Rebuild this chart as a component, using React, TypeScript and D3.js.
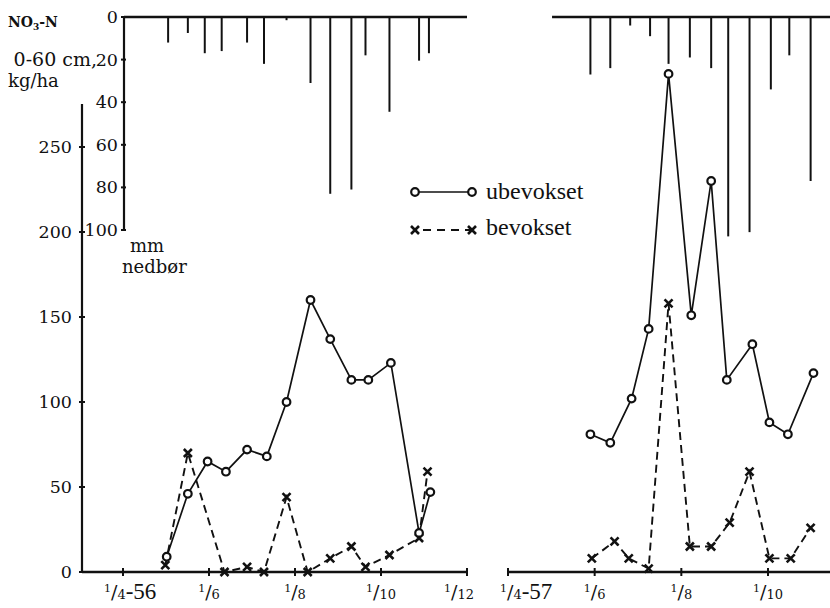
import React from "react";
import * as d3 from "d3";

// NO3-N (kg/ha, 0-60 cm) – ubevokset (bare) and bevokset (cropped), 1956 and 1957
const ubevDates56 = ["1956-05-02", "1956-05-17", "1956-05-31", "1956-06-13", "1956-06-28", "1956-07-12", "1956-07-26", "1956-08-12", "1956-08-26", "1956-09-10", "1956-09-22", "1956-10-08", "1956-10-28", "1956-11-05"];
const ubevValues56 = [9, 46, 65, 59, 72, 68, 100, 160, 137, 113, 113, 123, 23, 47];

const bevDates56 = ["1956-05-01", "1956-05-17", "1956-06-12", "1956-06-28", "1956-07-10", "1956-07-26", "1956-08-10", "1956-08-26", "1956-09-10", "1956-09-20", "1956-10-07", "1956-10-28", "1956-11-03"];
const bevValues56 = [4, 70, 0, 3, 0, 44, 0, 8, 15, 3, 10, 20, 59];

const ubevDates57 = ["1957-05-29", "1957-06-12", "1957-06-27", "1957-07-09", "1957-07-23", "1957-08-08", "1957-08-22", "1957-09-02", "1957-09-20", "1957-10-02", "1957-10-15", "1957-11-02"];
const ubevValues57 = [81, 76, 102, 143, 293, 151, 230, 113, 134, 88, 81, 117];

const bevDates57 = ["1957-05-30", "1957-06-15", "1957-06-25", "1957-07-09", "1957-07-23", "1957-08-07", "1957-08-22", "1957-09-04", "1957-09-18", "1957-10-02", "1957-10-17", "1957-10-31"];
const bevValues57 = [8, 18, 8, 2, 158, 15, 15, 29, 59, 8, 8, 26];

// precipitation (mm nedbør)
const rainDates56 = ["1956-05-03", "1956-05-17", "1956-05-29", "1956-06-10", "1956-06-28", "1956-07-10", "1956-07-26", "1956-08-12", "1956-08-26", "1956-09-10", "1956-09-20", "1956-10-07", "1956-10-28", "1956-11-04"];
const rainValues56 = [12, 7.5, 17, 16, 12, 22, 1.5, 31, 83, 81, 18, 44.5, 20.5, 17];
const rainDates57 = ["1957-05-29", "1957-06-12", "1957-06-26", "1957-07-10", "1957-07-23", "1957-08-07", "1957-08-22", "1957-09-03", "1957-09-18", "1957-10-03", "1957-10-16", "1957-10-31"];
const rainValues57 = [27, 24, 4, 9, 22, 19, 24, 103, 101, 34, 18, 77];

// ticks
const noTicks = [0, 50, 100, 150, 200, 250];
const rainTicks = [0, 20, 40, 60, 80, 100];
const monthTicks56 = ["1956-04-01", "1956-06-01", "1956-08-01", "1956-10-01", "1956-12-01"];
const monthLabels56 = ["4", "6", "8", "10", "12"];
const monthTicks57 = ["1957-04-01", "1957-06-01", "1957-08-01", "1957-10-01"];
const monthLabels57 = ["4", "6", "8", "10"];

const parse = d3.utcParse("%Y-%m-%d");
const serif = "'DejaVu Serif', serif";
const times = "'Liberation Serif', serif";

const Circle = ({ x, y }) => <circle cx={x} cy={y} r={3.8} fill="#fff" stroke="#111" strokeWidth={2.2} />;
const Cross = ({ x, y }) => (
  <path d={`M${x - 4},${y - 4}L${x + 4},${y + 4}M${x + 4},${y - 4}L${x - 4},${y + 4}`} stroke="#111" strokeWidth={2.6} />
);

const App = () => {
  const W = 830, H = 608;
  const x56 = d3.scaleUtc().domain([parse("1956-04-01"), parse("1956-12-01")]).range([123, 467]);
  const x57 = d3.scaleUtc().domain([parse("1957-04-01"), parse("1957-10-01")]).range([508, 768]);
  const y = d3.scaleLinear().domain([0, 250]).range([572, 147]);
  const yr = d3.scaleLinear().domain([0, 100]).range([17, 230]);

  const series = (dates, vals, xs) => dates.map((d, i) => [xs(parse(d)), y(vals[i])]);
  const line = d3.line();

  const u56 = series(ubevDates56, ubevValues56, x56);
  const b56 = series(bevDates56, bevValues56, x56);
  const u57 = series(ubevDates57, ubevValues57, x57);
  const b57 = series(bevDates57, bevValues57, x57);

  const yAxisX = 82;
  const rAxisX = 124;
  const leftEnd = x56(parse("1956-12-01"));
  const rightStart = x57(parse("1957-04-01"));
  const rainStart57 = x57(parse("1957-05-02"));

  const monthLabel = (lab, year, x, key) => (
    <text key={key} x={year ? x - 19 : x} y={599} textAnchor={year ? "start" : "middle"} fontFamily={serif} fill="#111">
      <tspan fontSize={11} dy={-7}>1</tspan>
      <tspan fontSize={19} dy={7}>/</tspan>
      <tspan fontSize={13}>{lab}</tspan>
      {year && <tspan fontFamily={times} fontSize={23}>{"-" + year}</tspan>}
    </text>
  );

  return (
    <svg width={W} height={H} style={{ position: "absolute", left: 0, top: 0, background: "#fff" }}>
      {/* precipitation bars */}
      <g stroke="#111" strokeWidth={2}>
        {rainDates56.map((d, i) => (
          <line key={"r56" + i} x1={x56(parse(d))} x2={x56(parse(d))} y1={yr(0)} y2={yr(rainValues56[i])} />
        ))}
        {rainDates57.map((d, i) => (
          <line key={"r57" + i} x1={x57(parse(d))} x2={x57(parse(d))} y1={yr(0)} y2={yr(rainValues57[i])} />
        ))}
      </g>
      {/* precipitation baselines */}
      <line x1={rAxisX} x2={leftEnd} y1={yr(0)} y2={yr(0)} stroke="#111" strokeWidth={2.5} />
      <line x1={rainStart57} x2={W} y1={yr(0)} y2={yr(0)} stroke="#111" strokeWidth={2.5} />
      {/* precipitation axis */}
      <line x1={rAxisX} x2={rAxisX} y1={yr(0)} y2={yr(100)} stroke="#111" strokeWidth={2.2} />
      {rainTicks.map((t) => (
        <g key={"rt" + t}>
          <line x1={rAxisX - 3} x2={rAxisX + 2} y1={yr(t)} y2={yr(t)} stroke="#111" strokeWidth={2} />
          <text x={rAxisX - 6} y={yr(t) + 6} textAnchor="end" fontFamily={serif} fontSize={17.5} fill="#111">{t}</text>
        </g>
      ))}

      {/* NO3 axis */}
      <line x1={yAxisX} x2={yAxisX} y1={104} y2={y(0)} stroke="#111" strokeWidth={2.2} />
      {noTicks.map((t) => (
        <g key={"nt" + t}>
          <line x1={yAxisX - 3} x2={yAxisX + 3} y1={y(t)} y2={y(t)} stroke="#111" strokeWidth={2} />
          <text x={yAxisX - 10} y={y(t) + 6} textAnchor="end" fontFamily={serif} fontSize={17.5} fill="#111">{t}</text>
        </g>
      ))}

      {/* time axes */}
      <line x1={yAxisX} x2={leftEnd} y1={y(0)} y2={y(0)} stroke="#111" strokeWidth={2.5} />
      <line x1={rightStart} x2={W} y1={y(0)} y2={y(0)} stroke="#111" strokeWidth={2.5} />
      {monthTicks56.map((d, i) => {
        const x = x56(parse(d));
        return (
          <g key={"m56" + i}>
            <line x1={x} x2={x} y1={y(0) - 4} y2={y(0) + 4} stroke="#111" strokeWidth={2} />
            {monthLabel(monthLabels56[i], i === 0 ? "56" : null, i === monthTicks56.length - 1 ? x - 8 : x, "ml56" + i)}
          </g>
        );
      })}
      {monthTicks57.map((d, i) => {
        const x = x57(parse(d));
        return (
          <g key={"m57" + i}>
            <line x1={x} x2={x} y1={y(0) - 4} y2={y(0) + 4} stroke="#111" strokeWidth={2} />
            {monthLabel(monthLabels57[i], i === 0 ? "57" : null, i === 0 ? x + 11 : x, "ml57" + i)}
          </g>
        );
      })}

      {/* series */}
      <g fill="none" stroke="#111">
        <path d={line(u56)} strokeWidth={1.7} />
        <path d={line(u57)} strokeWidth={1.7} />
        <path d={line(b56)} strokeWidth={1.9} strokeDasharray="8,5" />
        <path d={line(b57)} strokeWidth={1.9} strokeDasharray="8,5" />
      </g>
      {[...b56, ...b57].map(([px, py], i) => <Cross key={"bx" + i} x={px} y={py} />)}
      {[...u56, ...u57].map(([px, py], i) => <Circle key={"uc" + i} x={px} y={py} />)}

      {/* legend */}
      <line x1={415} x2={472} y1={192} y2={192} stroke="#111" strokeWidth={1.7} />
      <Circle x={415} y={192} />
      <Circle x={472} y={192} />
      <text x={486} y={199} fontFamily={times} fontSize={24} fill="#111">ubevokset</text>
      <line x1={415} x2={472} y1={230} y2={230} stroke="#111" strokeWidth={1.9} strokeDasharray="8,6" strokeDashoffset={-8} />
      <Cross x={415} y={230} />
      <Cross x={472} y={230} />
      <text x={486} y={235} fontFamily={times} fontSize={24} fill="#111">bevokset</text>

      {/* axis titles */}
      <text x={8} y={27} fontFamily={serif} fontSize={14} fontWeight="bold" fill="#111">
        NO<tspan fontSize={9} dy={3}>3</tspan><tspan dy={-3}>-N</tspan>
      </text>
      <text x={97} y={66} textAnchor="end" fontFamily={serif} fontSize={19} fill="#111">0-60 cm,</text>
      <text x={8} y={87} fontFamily={serif} fontSize={18} fill="#111">kg/ha</text>
      <text x={130} y={252} fontFamily={serif} fontSize={18} fill="#111">mm</text>
      <text x={122} y={273} fontFamily={serif} fontSize={18} fill="#111">nedbør</text>
    </svg>
  );
};

export default App;
